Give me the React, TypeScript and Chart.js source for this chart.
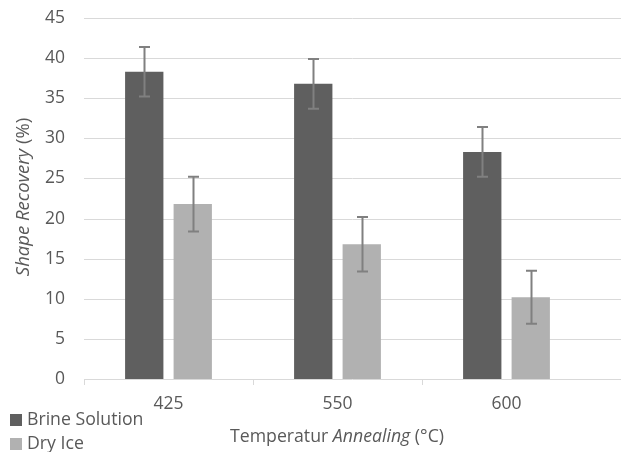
import { useEffect, useRef } from "react";
import { Chart, registerables } from "chart.js";

Chart.register(...registerables);

const categories = ["425", "550", "600"];
const seriesLabels = ["Brine Solution", "Dry Ice"];
const brineValues = [38.3, 36.8, 28.3];
const brineErrors = [3.1, 3.1, 3.1];
const dryIceValues = [21.8, 16.8, 10.2];
const dryIceErrors = [3.4, 3.4, 3.3];
const seriesColors = ["#5f5f5f", "#b1b1b1"];
const yMin = 0;
const yMax = 45;
const yStep = 5;
const yTitleParts = [
  { text: "Shape Recovery", italic: true },
  { text: " (%)", italic: false },
];
const xTitleParts = [
  { text: "Temperatur ", italic: false },
  { text: "Annealing", italic: true },
  { text: " (°C)", italic: false },
];

const FONT = "'Open Sans', sans-serif";
const TEXT = "#595959";
const GRID = "#d9d9d9";

type Part = { text: string; italic: boolean };

function drawParts(ctx: CanvasRenderingContext2D, parts: Part[], size: number) {
  let total = 0;
  const widths = parts.map((p) => {
    ctx.font = `${p.italic ? "italic " : ""}${size}px ${FONT}`;
    const w = ctx.measureText(p.text).width;
    total += w;
    return w;
  });
  let x = -total / 2;
  parts.forEach((p, i) => {
    ctx.font = `${p.italic ? "italic " : ""}${size}px ${FONT}`;
    ctx.fillText(p.text, x, 0);
    x += widths[i];
  });
}

// horizontal gridlines; the original plot area runs past the picture's right edge
const gridPlugin = {
  id: "gridFull",
  beforeDatasetsDraw(chart: any) {
    const ctx = chart.ctx;
    const yScale = chart.scales.y;
    const left = chart.chartArea.left;
    ctx.save();
    ctx.strokeStyle = GRID;
    ctx.lineWidth = 1;
    yScale.ticks.forEach((t: any) => {
      const y = Math.round(yScale.getPixelForValue(t.value)) + 0.5;
      ctx.beginPath();
      ctx.moveTo(left, y);
      ctx.lineTo(chart.width, y);
      ctx.stroke();
    });
    ctx.restore();
  },
};

const errorBarPlugin = {
  id: "errorBars",
  afterDatasetsDraw(chart: any) {
    const ctx = chart.ctx;
    const yScale = chart.scales.y;
    const errs = [brineErrors, dryIceErrors];
    ctx.save();
    ctx.strokeStyle = "#808080";
    ctx.lineWidth = 2;
    chart.data.datasets.forEach((ds: any, i: number) => {
      const meta = chart.getDatasetMeta(i);
      meta.data.forEach((bar: any, j: number) => {
        const v = ds.data[j];
        const e = errs[i][j];
        const x = Math.round(bar.x) + 0.5;
        const yTop = yScale.getPixelForValue(v + e);
        const yBot = yScale.getPixelForValue(v - e);
        ctx.beginPath();
        ctx.moveTo(x, yTop);
        ctx.lineTo(x, yBot);
        ctx.moveTo(x - 5.5, yTop);
        ctx.lineTo(x + 5.5, yTop);
        ctx.moveTo(x - 5.5, yBot);
        ctx.lineTo(x + 5.5, yBot);
        ctx.stroke();
      });
    });
    ctx.restore();
  },
};

const labelsPlugin = {
  id: "customLabels",
  afterDraw(chart: any) {
    const ctx = chart.ctx;
    ctx.save();
    ctx.fillStyle = TEXT;
    ctx.textBaseline = "middle";
    ctx.textAlign = "left";
    // y title
    ctx.save();
    ctx.translate(24, 197);
    ctx.rotate(-Math.PI / 2);
    drawParts(ctx, yTitleParts, 18.5);
    ctx.restore();
    // x title
    ctx.save();
    ctx.translate(337, 437);
    drawParts(ctx, xTitleParts, 17.7);
    ctx.restore();
    // legend
    const legendY = [420, 444];
    chart.data.datasets.forEach((ds: any, i: number) => {
      ctx.fillStyle = ds.backgroundColor;
      ctx.fillRect(10, legendY[i] - 6, 12, 12);
      ctx.fillStyle = TEXT;
      ctx.font = `17.7px ${FONT}`;
      ctx.fillText(ds.label, 27, legendY[i]);
    });
    ctx.restore();
  },
};

export default function App() {
  const ref = useRef<HTMLCanvasElement | null>(null);
  useEffect(() => {
    document.body.style.margin = "0";
    const canvas = ref.current;
    if (!canvas) return;
    const chart = new Chart(canvas, {
      type: "bar",
      data: {
        labels: categories,
        datasets: [
          {
            label: seriesLabels[0],
            data: brineValues,
            backgroundColor: seriesColors[0],
            categoryPercentage: 0.574,
            barPercentage: 0.79,
          },
          {
            label: seriesLabels[1],
            data: dryIceValues,
            backgroundColor: seriesColors[1],
            categoryPercentage: 0.574,
            barPercentage: 0.79,
          },
        ],
      },
      options: {
        animation: false,
        responsive: false,
        maintainAspectRatio: false,
        layout: { padding: { left: 0, right: 30, top: 18, bottom: 0 } },
        plugins: {
          legend: { display: false },
          tooltip: { enabled: false },
        },
        scales: {
          x: {
            offset: true,
            grid: {
              display: true,
              drawOnChartArea: false,
              drawTicks: true,
              tickLength: 6,
              color: (c: any) =>
                c.type !== "tick" || c.index >= categories.length
                  ? "rgba(0,0,0,0)"
                  : GRID,
              offset: true,
            },
            border: { display: false },
            ticks: {
              color: TEXT,
              font: { family: FONT, size: 17.5 },
              padding: 9,
            },
            afterFit(scale: any) {
              scale.height = 73;
              scale.paddingLeft = 0;
              scale.paddingRight = 0;
            },
          },
          y: {
            min: yMin,
            max: yMax,
            ticks: {
              stepSize: yStep,
              color: TEXT,
              font: { family: FONT, size: 17.5 },
              padding: 19,
            },
            grid: { display: false, drawTicks: false },
            border: { display: false },
            afterFit(scale: any) {
              scale.width = 84;
              scale.paddingTop = 0;
              scale.paddingBottom = 0;
            },
          },
        },
      },
      plugins: [gridPlugin, errorBarPlugin, labelsPlugin],
    });
    return () => chart.destroy();
  }, []);
  return (
    <div style={{ width: 621, height: 452, background: "#fff" }}>
      <canvas ref={ref} width={621} height={452} style={{ display: "block" }} />
    </div>
  );
}
